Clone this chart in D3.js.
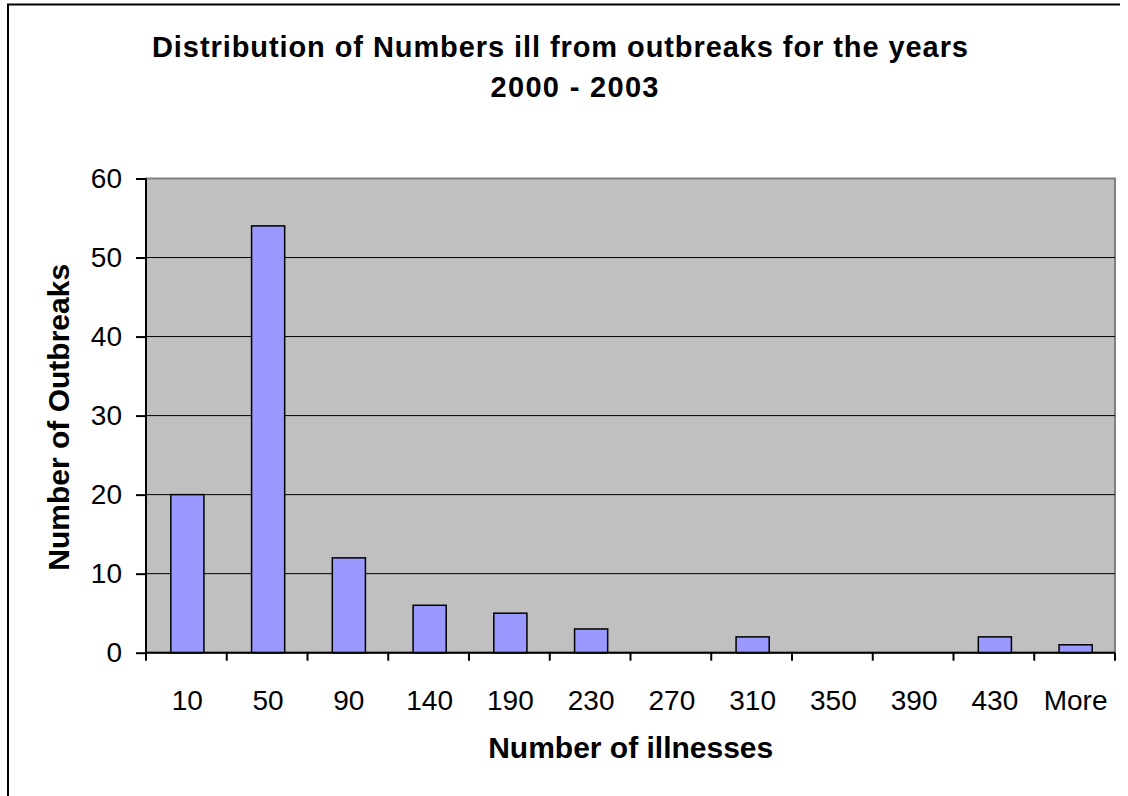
<!DOCTYPE html>
<html><head><meta charset="utf-8">
<script src="https://cdn.jsdelivr.net/npm/d3@7/dist/d3.min.js"></script>
<style>body{margin:0;background:#fff}svg{display:block}text{font-family:Arial,"Liberation Sans",sans-serif}</style>
</head><body>
<svg id="c" width="1128" height="796"></svg>
<script>
const categories = ["10","50","90","140","190","230","270","310","350","390","430","More"];
const outbreaks = [20,54,12,6,5,3,0,2,0,0,2,1];
const yTicks = [0,10,20,30,40,50,60];
const titleLines = ["Distribution of Numbers ill from outbreaks for the years","2000 - 2003"];

const svg = d3.select("#c");
const L = 146, R = 1115, T = 178.5, B = 652.7;

// chart border (left & top visible)
svg.append("path").attr("d", `M8,796 L8,4.5 L1120,4.5`).attr("fill","none").attr("stroke","#000").attr("stroke-width",2);

const x = d3.scaleBand().domain(categories).range([L, R]).padding(0);
const y = d3.scaleLinear().domain([0, 60]).range([B, T]);

svg.append("rect").attr("x", L).attr("y", T).attr("width", R - L).attr("height", B - T)
  .attr("fill", "#C0C0C0").attr("stroke", "#808080").attr("stroke-width", 2);

// gridlines
svg.append("g").selectAll("line").data(yTicks.filter(d => d > 0 && d < 60)).join("line")
  .attr("x1", L).attr("x2", R).attr("y1", d => y(d)).attr("y2", d => y(d))
  .attr("stroke", "#000").attr("stroke-width", 1);

// bars
const bw = x.bandwidth() * 0.41;
svg.append("g").selectAll("rect").data(outbreaks.map((v, i) => ({c: categories[i], v})).filter(d => d.v > 0)).join("rect")
  .attr("x", d => x(d.c) + x.bandwidth() / 2 - bw / 2 + 1)
  .attr("y", d => y(d.v)).attr("width", bw).attr("height", d => B - y(d.v))
  .attr("fill", "#9999FF").attr("stroke", "#000").attr("stroke-width", 1.5);

// y axis
const yAxis = d3.axisLeft(y).tickValues(yTicks).tickSize(10).tickPadding(14);
const gy = svg.append("g").attr("transform", `translate(${L},0)`).call(yAxis);
gy.select(".domain").attr("stroke", "#000").attr("stroke-width", 2).attr("d", `M0,${T}V${B}`);
gy.selectAll(".tick line").attr("stroke-width", 2);
gy.selectAll("text").attr("font-size", 28).attr("fill", "#000").attr("font-family", "Arial, 'Liberation Sans', sans-serif");

// x axis
const edges = categories.map(c => x(c)).concat([R]);
svg.append("line").attr("x1", L).attr("x2", R).attr("y1", B).attr("y2", B).attr("stroke", "#000").attr("stroke-width", 2);
svg.append("g").selectAll("line").data(edges).join("line")
  .attr("x1", d => d).attr("x2", d => d).attr("y1", B).attr("y2", B + 8)
  .attr("stroke", "#000").attr("stroke-width", 2);
svg.append("g").selectAll("text").data(categories).join("text")
  .attr("x", d => x(d) + x.bandwidth() / 2 + 1).attr("y", 710)
  .attr("text-anchor", "middle").attr("font-size", 28).attr("fill", "#000").text(d => d);

// titles
const titleX = [560, 574.5], titleLen = [816, 168];
svg.append("g").selectAll("text").data(titleLines).join("text")
  .attr("x", (d, i) => titleX[i]).attr("y", (d, i) => 56.7 + i * 40).attr("text-anchor", "middle")
  .attr("font-size", 29).attr("font-weight", "bold")
  .attr("textLength", (d, i) => titleLen[i]).attr("lengthAdjust", "spacing").text(d => d);

svg.append("text").attr("x", 630.7).attr("y", 757.7).attr("text-anchor", "middle")
  .attr("font-size", 30).attr("font-weight", "bold").text("Number of illnesses");

svg.append("text").attr("transform", `translate(69.3,417.3) rotate(-90)`).attr("text-anchor", "middle")
  .attr("font-size", 30).attr("font-weight", "bold").text("Number of Outbreaks");
</script>
</body></html>
